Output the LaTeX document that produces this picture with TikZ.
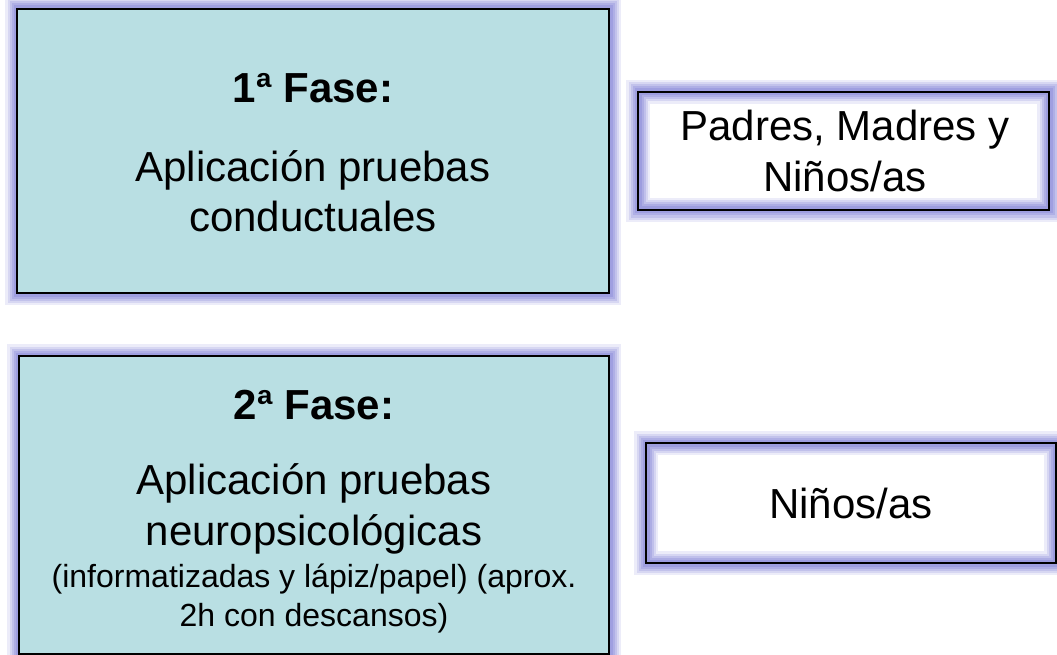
\documentclass[tikz,border=0pt]{standalone}
\usepackage{fontspec}
\setmainfont{Liberation Sans}
\definecolor{fasefill}{RGB}{185,223,227}
\definecolor{glowc}{RGB}{130,130,215}
\begin{document}
\begin{tikzpicture}[x=1pt,y=-1pt,
        glow/.style={preaction={draw=glowc,line width=24pt,opacity=.15},
                     preaction={draw=glowc,line width=19pt,opacity=.2},
                     preaction={draw=glowc,line width=15pt,opacity=.25},
                     preaction={draw=glowc,line width=11pt,opacity=.3},
                     preaction={draw=glowc,line width=7pt,opacity=.35}},
        fasebox/.style={glow,fill=fasefill,draw=black,line width=1.6pt,inner sep=0pt},
        grupobox/.style={preaction={fill=white},glow,draw=black,line width=1.6pt,inner sep=0pt},
        bigtext/.style={font=\fontsize{42}{51}\selectfont,align=center,anchor=base,inner sep=0pt},
        smalltext/.style={font=\fontsize{32}{39}\selectfont,align=center,anchor=base,inner sep=0pt}]
        \useasboundingbox (0,0) rectangle (1057,655);
        % fases
        \node [fasebox,minimum width=592pt,minimum height=284pt] (fase1) at (313,151) {};
        \node [fasebox,minimum width=590pt,minimum height=298pt] (fase2) at (314,505) {};
        % grupos
        \node [grupobox,minimum width=411pt,minimum height=118pt] (grupo1) at (843.5,151) {};
        \node [grupobox,minimum width=410pt,minimum height=120pt] (grupo2) at (851,503) {};
        % textos (base = ultima linea)
        \node [bigtext] (fase1tit) at (313,103) {\textbf{1ª Fase:}};
        \node [bigtext] (fase1txt) at (313,232) {Aplicación pruebas\\conductuales};
        \node [bigtext] (fase2tit) at (314,419) {\textbf{2ª Fase:}};
        \node [bigtext] (fase2txt) at (314,545) {Aplicación pruebas\\neuropsicológicas};
        \node [smalltext] (fase2nota) at (314,626) {(informatizadas y lápiz/papel) (aprox.\\2h con descansos)};
        \node [bigtext] (grupo1txt) at (845,192) {Padres, Madres y\\Niños/as};
        \node [bigtext] (grupo2txt) at (851,518) {Niños/as};
\end{tikzpicture}
\end{document}
